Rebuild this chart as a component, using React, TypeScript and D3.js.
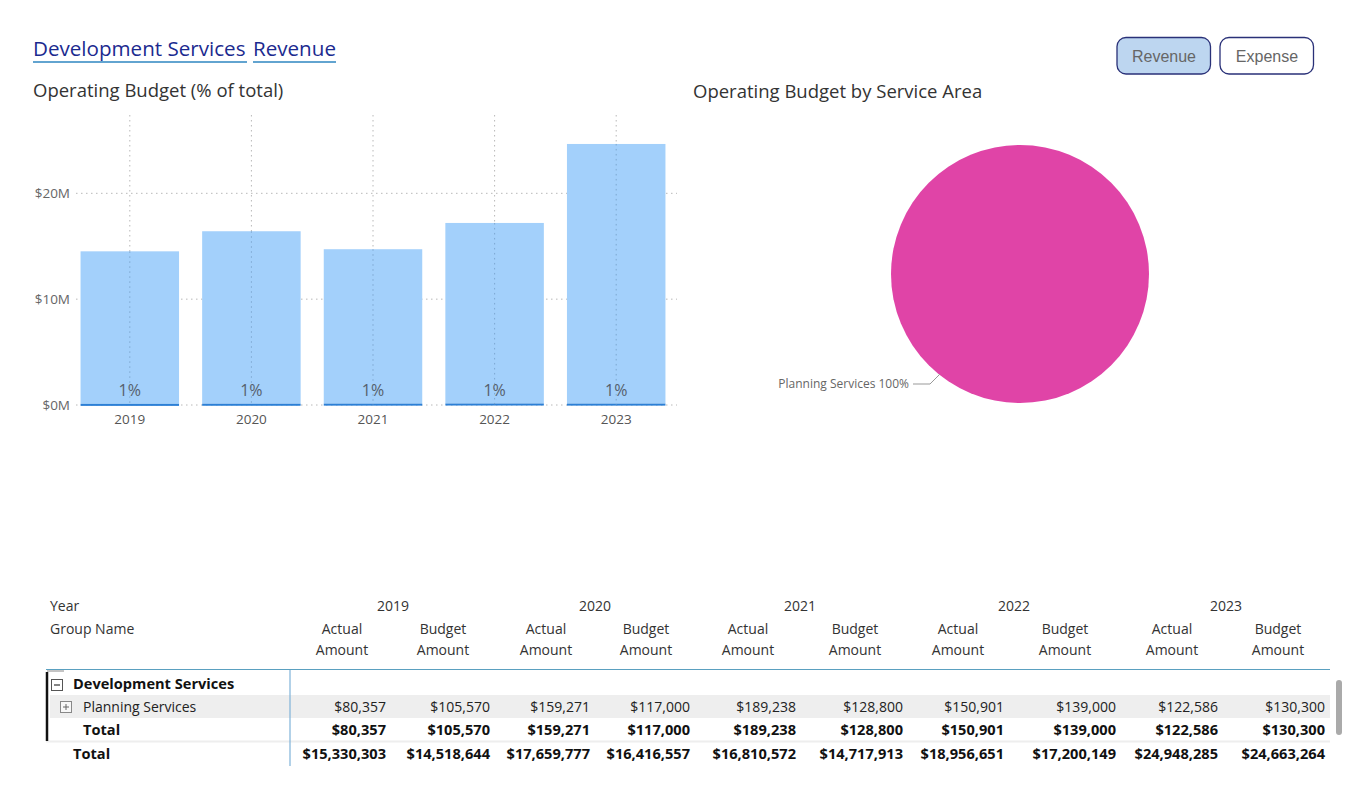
import React from "react";
import * as d3 from "d3";

// ---- data ----
const years = ["2019", "2020", "2021", "2022", "2023"];
const actualTotal = [15330303, 17659777, 16810572, 18956651, 24948285];
const budgetTotal = [14518644, 16416557, 14717913, 17200149, 24663264];
const planningActual = [80357, 159271, 189238, 150901, 122586];
const planningBudget = [105570, 117000, 128800, 139000, 130300];
const yTicks = [0, 10e6, 20e6];
const serviceAreas = ["Planning Services"];
const serviceBudget = [d3.sum(planningBudget)];

// ---- layout ----
const W = 1362;
const H = 795;
const FONT = "'Segoe UI', 'Open Sans', 'Noto Sans', sans-serif";

const fmtMoney = (v: number) => "$" + d3.format(",")(Math.round(v));
const fmtAxis = (v: number) => "$" + d3.format(".0f")(v / 1e6) + "M";
const fmtPct = d3.format(".0%");

function BarChart() {
  const x = d3.scaleBand<string>().domain(years).range([69, 677]).paddingInner(0.19).paddingOuter(0.095);
  const y = d3.scaleLinear().domain([0, 27.4e6]).range([405, 115]);
  const stacked = years.map((yr, i) => ({
    year: yr,
    dev: planningBudget[i],
    rest: budgetTotal[i] - planningBudget[i],
    total: budgetTotal[i],
  }));
  const grid = "#b8b8b8";
  return (
    <g>
      {/* horizontal gridlines */}
      {yTicks.map((t) => (
        <g key={t}>
          <line x1={76} x2={677} y1={y(t)} y2={y(t)} stroke={grid} strokeDasharray="1.5,3.5" strokeWidth={1} />
          <text x={70} y={y(t)} dy="0.35em" textAnchor="end" fontSize={13.5} fill="#666" fontFamily={FONT}>
            {fmtAxis(t)}
          </text>
        </g>
      ))}
      {/* vertical gridlines */}
      {years.map((yr) => (
        <line
          key={"v" + yr}
          x1={x(yr)! + x.bandwidth() / 2}
          x2={x(yr)! + x.bandwidth() / 2}
          y1={y.range()[1]}
          y2={y(0)}
          stroke={grid}
          strokeDasharray="1.5,3.5"
        />
      ))}
      {stacked.map((d) => {
        const bx = x(d.year)!;
        const bw = x.bandwidth();
        return (
          <g key={d.year}>
            <rect x={bx} y={y(d.total)} width={bw} height={y(d.dev) - y(d.total)} fill="#A3D0FB" />
            <rect x={bx} y={y(d.dev)} width={bw} height={Math.max(2, y(0) - y(d.dev))} fill="#2B7FD6" />
            <line
              x1={bx + bw / 2}
              x2={bx + bw / 2}
              y1={y(d.total)}
              y2={y(0)}
              stroke="#6f97bf"
              strokeDasharray="1.5,3.5"
              opacity={0.7}
            />
            <text x={bx + bw / 2} y={y(d.dev) - 8} textAnchor="middle" fontSize={16} fill="#56606c" fontFamily={FONT}>
              {fmtPct(d.dev / d.total)}
            </text>
            <text x={bx + bw / 2} y={y(0) + 19} textAnchor="middle" fontSize={13.5} fill="#555" fontFamily={FONT}>
              {d.year}
            </text>
          </g>
        );
      })}
    </g>
  );
}

function PieChart() {
  const cx = 1020;
  const cy = 274;
  const r = 129;
  const pie = d3.pie<number>().sort(null)(serviceBudget);
  const arc = d3.arc<d3.PieArcDatum<number>>().innerRadius(0).outerRadius(r);
  const total = d3.sum(serviceBudget);
  return (
    <g transform={`translate(${cx},${cy})`}>
      {pie.map((p, i) => (
        <path key={i} d={arc(p) || ""} fill="#E044A7" />
      ))}
      <polyline points="-107,110 -90,110 -80,100" fill="none" stroke="#999" strokeWidth={1} />
      <text x={-111} y={110} dy="0.35em" textAnchor="end" fontSize={12} fill="#666" fontFamily={FONT}>
        {`${serviceAreas[0]} ${fmtPct(serviceBudget[0] / total)}`}
      </text>
    </g>
  );
}

function Buttons() {
  const btns = [
    { label: "Revenue", x: 1117, active: true },
    { label: "Expense", x: 1220, active: false },
  ];
  return (
    <g>
      {btns.map((b) => (
        <g key={b.label}>
          <rect
            x={b.x}
            y={37.5}
            width={93.5}
            height={36.5}
            rx={9}
            fill={b.active ? "#BDD6F0" : "#fff"}
            stroke="#2A3178"
            strokeWidth={1.3}
          />
          <text x={b.x + 47} y={56} dy="0.35em" textAnchor="middle" fontSize={16} fill="#666" fontFamily="Arial, 'Liberation Sans', sans-serif">
            {b.label}
          </text>
        </g>
      ))}
    </g>
  );
}

function Table() {
  const actualRight = [386, 590, 796, 1004, 1218];
  const budgetRight = [490, 690, 903, 1116, 1325];
  const actualCenter = [342, 546, 748, 958, 1172];
  const budgetCenter = [443, 646, 855, 1065, 1278];
  const yearCenter = [393, 595, 800, 1014, 1226];
  const f = { fontFamily: FONT, fontSize: 14 } as const;
  const bold = { fontWeight: "bold", fontSize: 14.6 } as const;
  return (
    <g {...f}>
      <text x={50} y={611} fill="#333">Year</text>
      <text x={50} y={634} fill="#333">Group Name</text>
      {years.map((yr, i) => (
        <g key={yr}>
          <text x={yearCenter[i]} y={611} textAnchor="middle" fill="#333">{yr}</text>
          <text x={actualCenter[i]} y={634} textAnchor="middle" fill="#333">Actual</text>
          <text x={actualCenter[i]} y={655} textAnchor="middle" fill="#333">Amount</text>
          <text x={budgetCenter[i]} y={634} textAnchor="middle" fill="#333">Budget</text>
          <text x={budgetCenter[i]} y={655} textAnchor="middle" fill="#333">Amount</text>
        </g>
      ))}
      {/* header rule */}
      <line x1={46} x2={1330} y1={669.5} y2={669.5} stroke="#5aa0c0" strokeWidth={1.2} />
      {/* planning row band */}
      <rect x={50} y={695} width={1280} height={23} fill="#EEEEEE" />
      {/* row separators */}
      <line x1={46} x2={1330} y1={741.5} y2={741.5} stroke="#eeeeee" strokeWidth={2} />
      {/* group indicator */}
      <line x1={47} x2={47} y1={672} y2={741} stroke="#111" strokeWidth={2.5} />
      <line x1={47} x2={64} y1={671} y2={671} stroke="#888" strokeWidth={1} />
      {/* column divider */}
      <line x1={290} x2={290} y1={670} y2={766} stroke="#7fb3d9" strokeWidth={1.2} />
      {/* collapse / expand boxes */}
      <rect x={51.5} y={679.5} width={11} height={11} fill="none" stroke="#555" strokeWidth={1} />
      <line x1={54} x2={60} y1={685} y2={685} stroke="#333" strokeWidth={1.2} />
      <rect x={60.5} y={701.5} width={11} height={11} fill="#f7f7f7" stroke="#888" strokeWidth={1} />
      <line x1={63} x2={69} y1={707} y2={707} stroke="#666" strokeWidth={1} />
      <line x1={66} x2={66} y1={704} y2={710} stroke="#666" strokeWidth={1} />

      <text x={73} y={689} {...bold} fill="#111">Development Services</text>
      <text x={83} y={712} fill="#222">Planning Services</text>
      <text x={83} y={735} {...bold} fill="#111">Total</text>
      <text x={73} y={759} {...bold} fill="#111">Total</text>

      {years.map((yr, i) => (
        <g key={"v" + yr} textAnchor="end">
          <text x={actualRight[i]} y={712} fill="#222">{fmtMoney(planningActual[i])}</text>
          <text x={budgetRight[i]} y={712} fill="#222">{fmtMoney(planningBudget[i])}</text>
          <text x={actualRight[i]} y={735} fill="#111" {...bold}>{fmtMoney(planningActual[i])}</text>
          <text x={budgetRight[i]} y={735} fill="#111" {...bold}>{fmtMoney(planningBudget[i])}</text>
          <text x={actualRight[i]} y={759} fill="#111" {...bold}>{fmtMoney(actualTotal[i])}</text>
          <text x={budgetRight[i]} y={759} fill="#111" {...bold}>{fmtMoney(budgetTotal[i])}</text>
        </g>
      ))}
      {/* scrollbar */}
      <rect x={1336} y={680} width={6} height={55} rx={3} fill="#aaaaaa" />
    </g>
  );
}

export default function App() {
  return (
    <svg width={W} height={H} style={{ display: "block", position: "absolute", left: 0, top: 0, background: "#fff" }}>
      <rect width={W} height={H} fill="#fff" />
      {/* report title */}
      <text y={56} fontSize={20.6} fill="#1B2A8F" fontFamily={FONT}>
        <tspan x={33}>Development Services</tspan>
        <tspan x={253}>Revenue</tspan>
      </text>
      <line x1={33} x2={247} y1={62} y2={62} stroke="#2E86C1" strokeWidth={1.5} />
      <line x1={253} x2={336} y1={62} y2={62} stroke="#2E86C1" strokeWidth={1.5} />
      <text x={33} y={97} fontSize={18.5} fill="#333" fontFamily={FONT}>Operating Budget (% of total)</text>
      <text x={693} y={98} fontSize={18.5} fill="#333" fontFamily={FONT}>Operating Budget by Service Area</text>
      <Buttons />
      <BarChart />
      <PieChart />
      <Table />
    </svg>
  );
}
